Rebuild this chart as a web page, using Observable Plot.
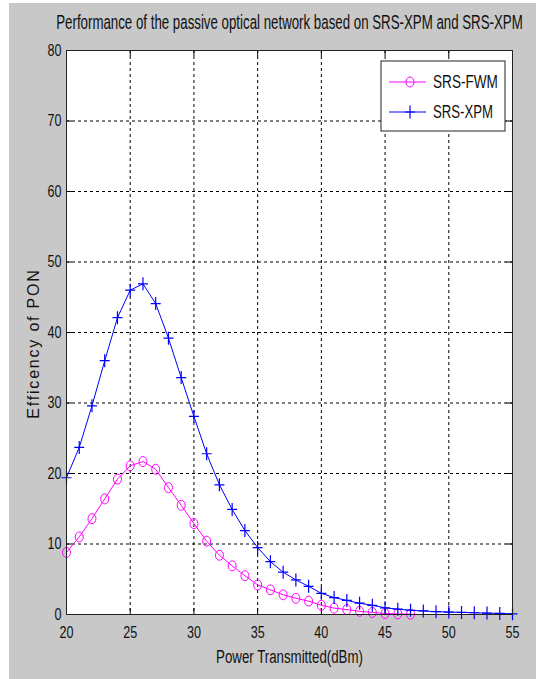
<!DOCTYPE html>
<html><head><meta charset="utf-8">
<script src="https://cdn.jsdelivr.net/npm/d3@7"></script>
<script src="https://cdn.jsdelivr.net/npm/@observablehq/plot@0.6"></script>
<style>
html,body{margin:0;padding:0;background:#fff;}
#wrap{position:absolute;left:9px;top:3px;width:527px;height:676px;background:#c8c8c8;overflow:hidden;}
#chart{position:absolute;left:-9px;top:-3px;}
#chart svg{background:transparent;}
</style>
</head><body>
<div id="wrap"><div id="chart"></div></div>
<script>
// ---- data ----
const titleText = "Performance of the passive optical network based on SRS-XPM and SRS-XPM";
const xLabel = "Power Transmitted(dBm)";
const yLabel = "Efficency of PON";
const seriesNames = ["SRS-FWM", "SRS-XPM"];
const seriesColors = ["#ff00ff", "#0000ff"];
const xTicks = [20, 25, 30, 35, 40, 45, 50, 55];
const yTicks = [0, 10, 20, 30, 40, 50, 60, 70, 80];

const fwmPower = [20,21,22,23,24,25,26,27,28,29,30,31,32,33,34,35,36,37,38,39,40,41,42,43,44,45,46,47];
const fwmEff   = [8.8,11.0,13.6,16.4,19.2,21.1,21.7,20.6,18.0,15.5,12.9,10.4,8.4,6.9,5.5,4.2,3.5,2.8,2.3,1.9,1.3,0.9,0.7,0.45,0.3,0.15,0.08,0.05];

const xpmPower = [20,21,22,23,24,25,26,27,28,29,30,31,32,33,34,35,36,37,38,39,40,41,42,43,44,45,46,47,48,49,50,51,52,53,54,55];
const xpmEff   = [19.4,23.7,29.6,36.0,42.1,46.0,46.9,44.1,39.2,33.6,28.1,22.8,18.4,14.9,11.9,9.5,7.5,6.0,4.9,4.0,3.0,2.4,2.0,1.6,1.3,0.95,0.75,0.6,0.5,0.4,0.35,0.3,0.25,0.2,0.15,0.1];

const fwm = fwmPower.map((p, i) => ({p, e: fwmEff[i]}));
const xpm = xpmPower.map((p, i) => ({p, e: xpmEff[i]}));

// thin plus / ellipse markers (slightly taller than wide, as in the picture)
const thinPlus = {draw(ctx, size) { const rx = 5, ry = 6.5;
  ctx.moveTo(-rx, 0); ctx.lineTo(rx, 0); ctx.moveTo(0, -ry); ctx.lineTo(0, ry); }};
const ellipse = {draw(ctx, size) { const rx = 4, ry = 5, k = 0.5523;
  ctx.moveTo(rx, 0);
  ctx.bezierCurveTo(rx, ry*k, rx*k, ry, 0, ry);
  ctx.bezierCurveTo(-rx*k, ry, -rx, ry*k, -rx, 0);
  ctx.bezierCurveTo(-rx, -ry*k, -rx*k, -ry, 0, -ry);
  ctx.bezierCurveTo(rx*k, -ry, rx, -ry*k, rx, 0);
  ctx.closePath(); }};

const W = 536, H = 679;
const mL = 66, mR = 24, mT = 50, mB = 65;
const plotW = W - mL - mR, plotH = H - mT - mB;
const tk = 6;
const FONT = "'Liberation Sans', Arial, sans-serif";

const chart = Plot.plot({
  width: W, height: H,
  marginLeft: mL, marginRight: mR, marginTop: mT, marginBottom: mB,
  style: {fontFamily: FONT, fontSize: "17px", color: "#111", background: "transparent"},
  x: {domain: [20, 55]},
  y: {domain: [0, 80]},
  marks: [
    Plot.frame({fill: "white", stroke: "none"}),
    Plot.gridX(xTicks.slice(1, -1), {stroke: "#000", strokeOpacity: 1, strokeDasharray: "3,3"}),
    Plot.gridY(yTicks.slice(1, -1), {stroke: "#000", strokeOpacity: 1, strokeDasharray: "3,3"}),
    // inward ticks
    Plot.tickX(xTicks, {x: d => d, insetTop: plotH - tk, stroke: "#000"}),
    Plot.tickX(xTicks, {x: d => d, insetBottom: plotH - tk, stroke: "#000"}),
    Plot.tickY(yTicks, {y: d => d, insetRight: plotW - tk, stroke: "#000"}),
    Plot.tickY(yTicks, {y: d => d, insetLeft: plotW - tk, stroke: "#000"}),
    Plot.line(fwm, {x: "p", y: "e", stroke: seriesColors[0], strokeWidth: 1}),
    Plot.dot(fwm, {x: "p", y: "e", stroke: seriesColors[0], fill: "none", symbol: ellipse, strokeWidth: 1}),
    Plot.line(xpm, {x: "p", y: "e", stroke: seriesColors[1], strokeWidth: 1}),
    Plot.dot(xpm, {x: "p", y: "e", stroke: seriesColors[1], fill: "none", symbol: thinPlus, strokeWidth: 1.2}),
    Plot.frame({stroke: "#222", fill: "none"}),
    Plot.axisX(xTicks, {tickSize: 0, tickPadding: 11, label: null}),
    Plot.axisY(yTicks, {tickSize: 0, tickPadding: 5, label: null}),
    Plot.text([xLabel], {frameAnchor: "bottom", dy: 48, text: d => d, fontSize: 19, fill: "#111"}),
    Plot.text([yLabel], {frameAnchor: "left", textAnchor: "middle", dx: -33, dy: 11, rotate: -90,
      text: d => d, fontSize: 16, fill: "#111"}),
    Plot.text([titleText], {frameAnchor: "top", dy: -35, text: d => d, fontSize: 19.5, fill: "#111"})
  ]
});
document.getElementById("chart").appendChild(chart);

const svg = d3.select(chart);
// the picture uses a condensed face: squeeze texts horizontally to their measured widths
function squeeze(el, target) {
  const natural = el.getComputedTextLength();
  if (!natural) return;
  const sx = Math.min(1, target / natural);
  const tr = el.getAttribute("transform") || "";
  el.setAttribute("transform", `${tr} scale(${sx.toFixed(4)},1)`);
}
svg.selectAll("text").each(function() {
  const t = this.textContent;
  if (t === titleText) squeeze(this, 467);
  else if (t === xLabel) squeeze(this, 147);
  else if (t === yLabel) this.setAttribute("letter-spacing", "1.8px");
});
svg.selectAll("[aria-label='x-axis tick label'] text, [aria-label='y-axis tick label'] text").each(function() {
  squeeze(this, this.textContent.length * 7);
});

// legend box (top right)
const lg = svg.append("g").attr("font-family", FONT).attr("font-size", 18).attr("text-anchor", "start");
lg.append("rect").attr("x", 381).attr("y", 61).attr("width", 124).attr("height", 70)
  .attr("fill", "white").attr("stroke", "#222");
seriesNames.forEach((name, i) => {
  const cy = 82 + i * 30;
  lg.append("line").attr("x1", 389).attr("x2", 426).attr("y1", cy).attr("y2", cy)
    .attr("stroke", seriesColors[i]);
  const sym = i === 0 ? ellipse : thinPlus;
  const p = d3.path(); sym.draw(p, 0);
  lg.append("path").attr("d", p.toString()).attr("transform", `translate(410,${cy})`)
    .attr("fill", "none").attr("stroke", seriesColors[i]).attr("stroke-width", i === 0 ? 1 : 1.2);
  const tx = lg.append("text").attr("transform", `translate(433,${cy})`).attr("dy", "0.35em")
    .attr("fill", "#111").text(name);
  squeeze(tx.node(), i === 0 ? 65 : 60);
});
</script>
</body></html>
